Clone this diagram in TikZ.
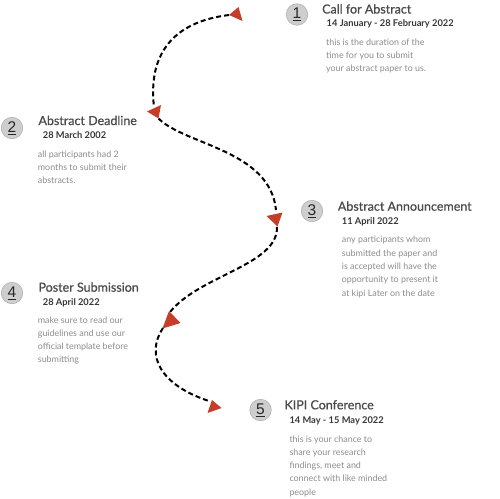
\documentclass[tikz,border=0pt]{standalone}
\usepackage{fontspec}
\setmainfont{Lato}
\newfontfamily\numfont{Liberation Sans}
\newfontfamily\ttlfont{Lato}[FakeBold=0.7]
\definecolor{arrowred}{RGB}{196,62,42}
\definecolor{badgefill}{RGB}{206,206,206}
\definecolor{badgeline}{RGB}{178,178,178}
\definecolor{numgray}{RGB}{40,40,40}
\definecolor{titlegray}{RGB}{75,75,75}
\definecolor{dategray}{RGB}{55,55,55}
\definecolor{descgray}{RGB}{140,140,140}
\begin{document}
\begin{tikzpicture}[x=1pt,y=-1pt,
  badge/.style={circle, fill=badgefill, draw=badgeline, line width=0.6pt, minimum size=21.5pt, inner sep=0pt,
    font=\numfont\fontsize{15.5}{15.5}\selectfont, text=numgray},
  ttl/.style={anchor=base west, inner sep=0pt, font=\ttlfont\fontsize{12.5}{14}\selectfont, text=titlegray},
  dt/.style={anchor=base west, inner sep=0pt, font=\bfseries\fontsize{9.3}{10}\selectfont, text=dategray},
  dsc/.style={anchor=north west, inner sep=0pt, align=left, font=\fontsize{8.9}{13.3}\selectfont, text=descgray},
  dashline/.style={draw=black, line width=2pt, dash pattern=on 5pt off 3pt},
  tri/.style={fill=arrowred}]
\useasboundingbox (0,0) rectangle (500,498);

% item 1
\node[badge] (n1) at (297,14.5) {\underline{1}};
\node[ttl] (t1) at (322,13.5) {Call for Abstract};
\node[dt] (d1) at (326.5,26.7) {14 January - 28 February 2022};
\node[dsc] (x1) at (326,38.3) {this is the duration of the\\time for you to submit\\your abstract paper to us.};

% item 2
\node[badge] (n2) at (12,128) {\underline{2}};
\node[ttl] (t2) at (38.3,125) {Abstract Deadline};
\node[dt] (d2) at (42.7,138.3) {28 March 2002};
\node[dsc] (x2) at (37.7,150.3) {all participants had 2\\months to submit their\\abstracts.};

% item 3
\node[badge] (n3) at (312,211) {\underline{3}};
\node[ttl] (t3) at (337.7,210.7) {Abstract Announcement};
\node[dt] (d3) at (341.7,224) {11 April 2022};
\node[dsc] (x3) at (341.7,236.1) {any participants whom\\submitted the paper and\\is accepted will have the\\opportunity to present it\\at kipi Later on the date};

% item 4
\node[badge] (n4) at (12,293) {\underline{4}};
\node[ttl] (t4) at (38.3,291.7) {Poster Submission};
\node[dt] (d4) at (42.7,305) {28 April 2022};
\node[dsc] (x4) at (37.7,316.3) {make sure to read our\\guidelines and use our\\official template before\\submitting};

% item 5
\node[badge] (n5) at (260.5,410) {\underline{5}};
\node[ttl] (t5) at (284.3,409.3) {KIPI Conference};
\node[dt] (d5) at (289.3,423.3) {14 May - 15 May 2022};
\node[dsc] (x5) at (289.3,435.3) {this is your chance to\\share your research\\findings, meet and\\connect with like minded\\people};

% triangle markers
\coordinate (a1) at (229,15);
\coordinate (a2b) at (154,107);
\coordinate (a2) at (158.5,118.5);
\coordinate (a3b) at (276,210);
\coordinate (a3) at (277,227);
\coordinate (a4b) at (170,312);
\coordinate (a4) at (163,328);
\coordinate (a5) at (209,401);

% dashed curves
\draw[dashline] (a1) .. controls (172,22) and (148,55) .. (a2b);
\draw[dashline] (a2) .. controls (185,145) and (270,150) .. (a3b);
\draw[dashline] (a3) .. controls (278,265) and (200,275) .. (a4b);
\draw[dashline] (a4) .. controls (145,355) and (160,385) .. (a5);

\fill[tri] (229,15) -- (238.5,7) -- (242.5,21) -- cycle;
\fill[tri] (147,111.5) -- (161,105) -- (158.5,118.5) -- cycle;
\fill[tri] (266.5,216) -- (282.5,212.5) -- (277.5,226.5) -- cycle;
\fill[tri] (169,311) -- (180.5,323) -- (162.5,328.5) -- cycle;
\fill[tri] (212,400) -- (221.5,408) -- (207.5,413) -- cycle;
\end{tikzpicture}
\end{document}
